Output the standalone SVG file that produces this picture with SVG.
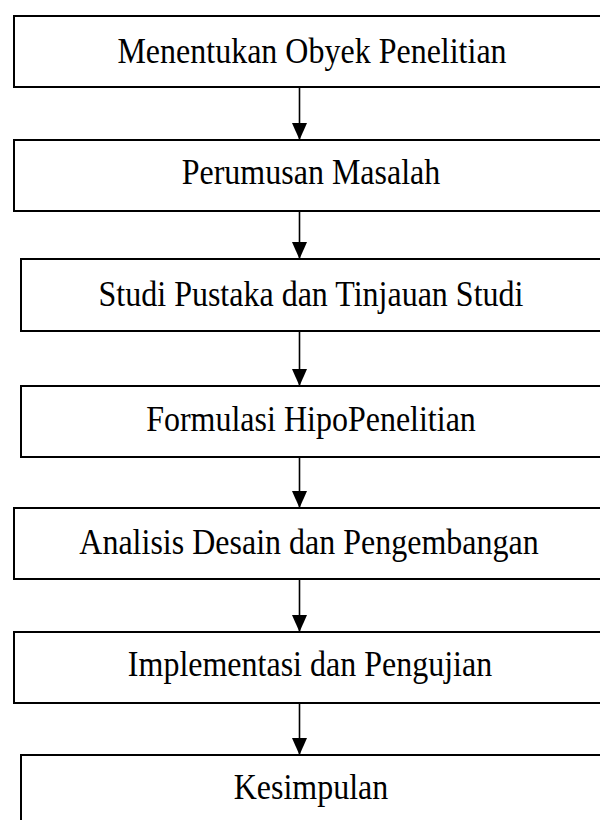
<svg xmlns="http://www.w3.org/2000/svg" width="600" height="820" viewBox="0 0 600 820">
<defs>
<style>
.box rect{fill:#fff;stroke:#000;stroke-width:2}
.box text{font-family:"Liberation Serif","Times New Roman",serif;font-size:32px;fill:#000;text-anchor:middle}
.conn line{stroke:#000;stroke-width:1.6}
</style>
<marker id="arr" viewBox="0 0 17 15" refX="17" refY="7.5" markerWidth="17" markerHeight="15" markerUnits="userSpaceOnUse" orient="auto">
<path d="M0,0 L17,7.5 L0,15 Z" fill="#000"/>
</marker>
</defs>
<rect width="600" height="820" fill="#fff"/>
<g id="n1" class="box"><rect x="14" y="16" width="600" height="71"/><text transform="translate(312,63) scale(1,1.12)">Menentukan Obyek Penelitian</text></g>
<g id="n2" class="box"><rect x="14" y="140" width="600" height="71"/><text transform="translate(311,184) scale(1,1.12)">Perumusan Masalah</text></g>
<g id="n3" class="box"><rect x="21" y="259" width="600" height="72"/><text transform="translate(311,306) scale(1,1.12)">Studi Pustaka dan Tinjauan Studi</text></g>
<g id="n4" class="box"><rect x="21" y="386" width="600" height="71"/><text transform="translate(311,431) scale(1,1.12)">Formulasi HipoPenelitian</text></g>
<g id="n5" class="box"><rect x="14" y="508" width="600" height="71"/><text transform="translate(309,554) scale(1,1.12)">Analisis Desain dan Pengembangan</text></g>
<g id="n6" class="box"><rect x="14" y="632" width="600" height="71"/><text transform="translate(310,676) scale(1,1.12)">Implementasi dan Pengujian</text></g>
<g id="n7" class="box"><rect x="21" y="755" width="600" height="80"/><text transform="translate(311,799) scale(1,1.12)">Kesimpulan</text></g>
<g id="connectors" class="conn">
<line x1="299.5" y1="87" x2="299.5" y2="140" marker-end="url(#arr)"/>
<line x1="299.5" y1="211" x2="299.5" y2="259" marker-end="url(#arr)"/>
<line x1="299.5" y1="331" x2="299.5" y2="386" marker-end="url(#arr)"/>
<line x1="299.5" y1="457" x2="299.5" y2="508" marker-end="url(#arr)"/>
<line x1="299.5" y1="579" x2="299.5" y2="632" marker-end="url(#arr)"/>
<line x1="299.5" y1="703" x2="299.5" y2="755" marker-end="url(#arr)"/>
</g>
</svg>
